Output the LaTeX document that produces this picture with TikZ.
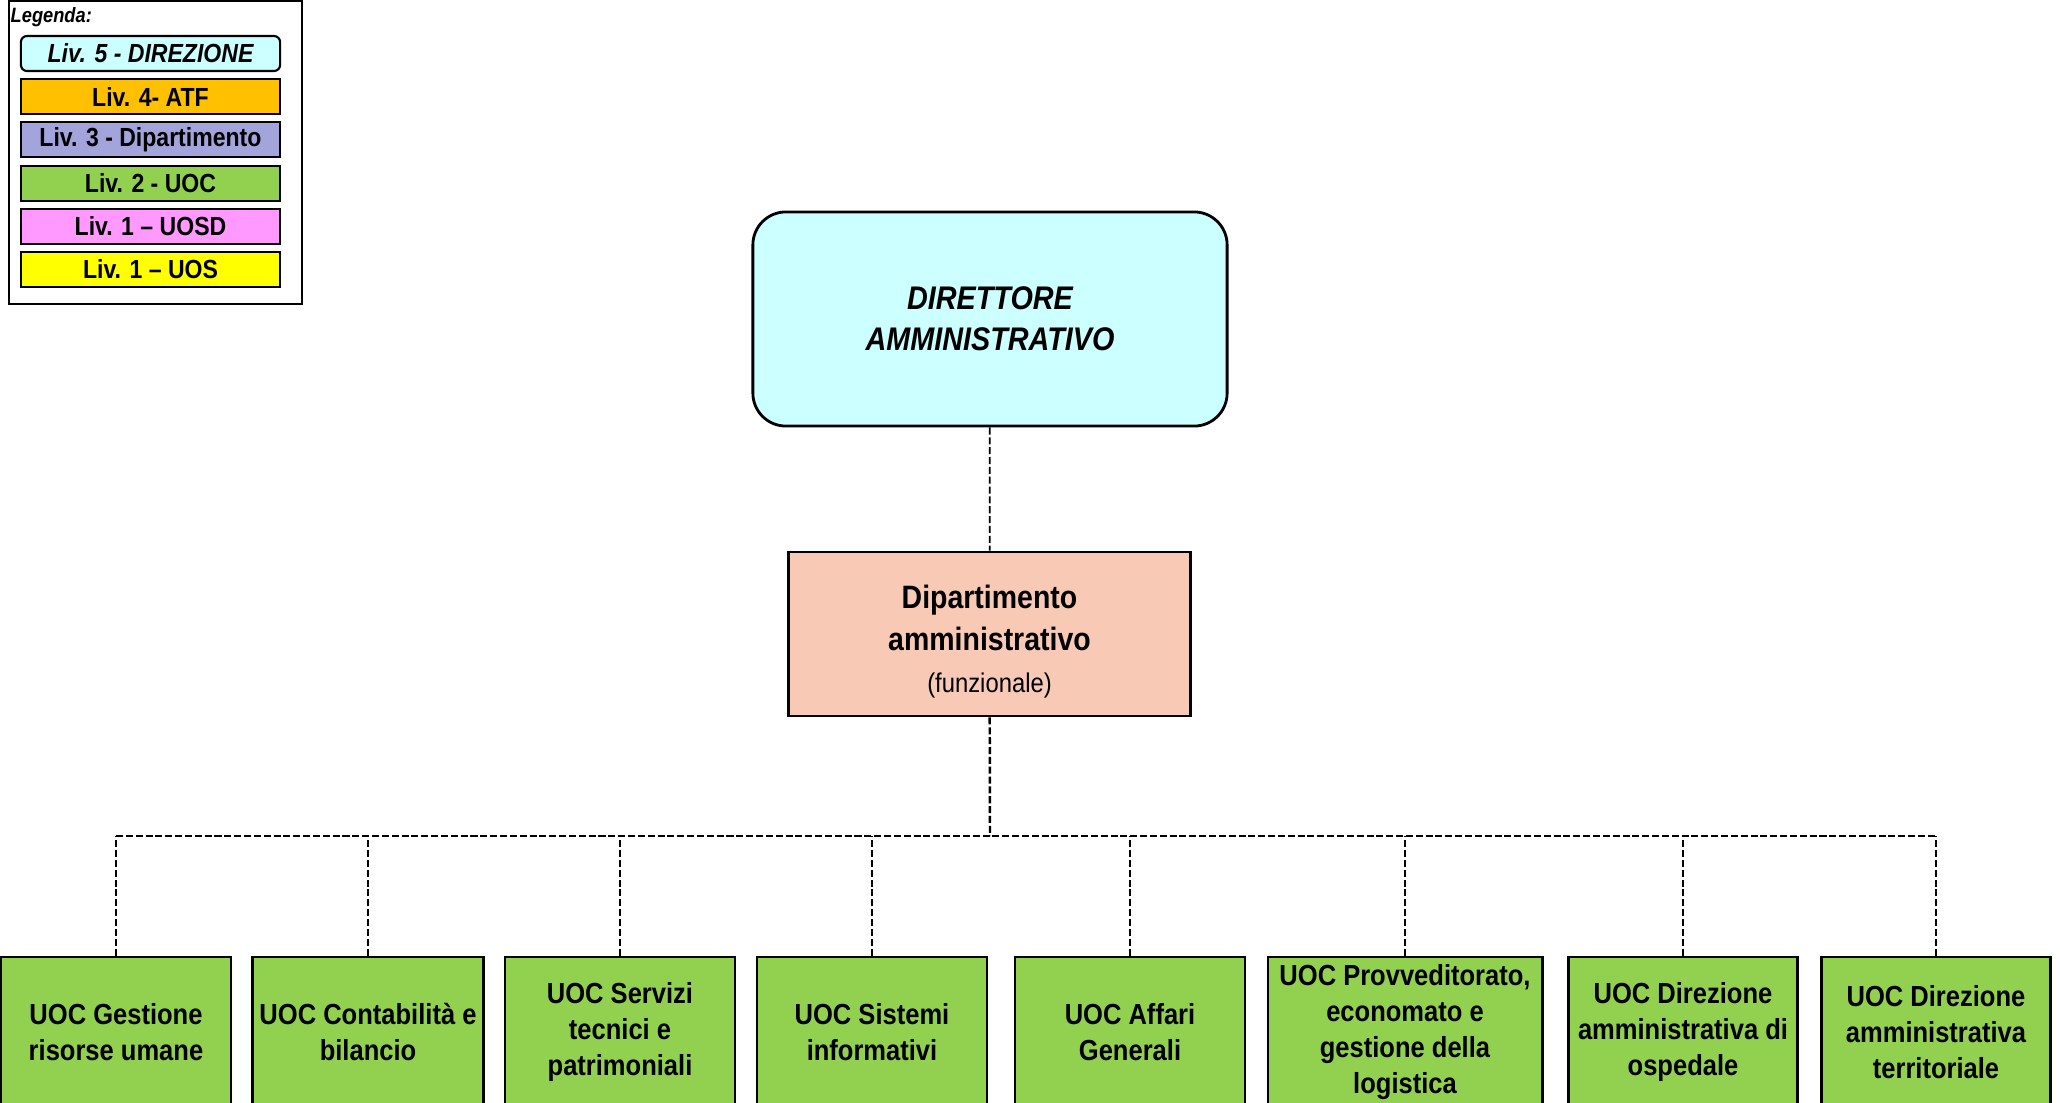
\documentclass[tikz,border=0pt]{standalone}
\usepackage{fontspec}
\setmainfont{Liberation Sans}[FakeStretch=0.88]
\definecolor{cdir}{HTML}{CCFFFF}
\definecolor{catf}{HTML}{FFC000}
\definecolor{cdip}{HTML}{A4A4DC}
\definecolor{cuoc}{HTML}{92D050}
\definecolor{cuosd}{HTML}{FF99FF}
\definecolor{cuos}{HTML}{FFFF00}
\definecolor{cdipa}{HTML}{F8CAB6}
\tikzset{
  box/.style={draw=black,line width=0.8pt,align=center,inner sep=2pt},
  dirbox/.style={box,fill=cdir,rounded corners=0.33cm,minimum width=4.74cm,minimum height=2.14cm,font=\bfseries\itshape\fontsize{9.3}{11.6}\selectfont},
  dipbox/.style={box,fill=cdipa,minimum width=4.01cm,minimum height=1.64cm,font=\bfseries\fontsize{9.2}{12}\selectfont},
  uoc/.style={box,fill=cuoc,minimum height=1.5cm,font=\bfseries\fontsize{8.25}{10.2}\selectfont},
  liv/.style={draw=black,line width=0.6pt,minimum width=2.59cm,minimum height=0.35cm,inner sep=0pt,font=\bfseries\fontsize{7.45}{8}\selectfont},
  link/.style={draw=black,line width=0.5pt,dash pattern=on 2pt off 0.8pt},
}

\begin{document}
\begin{tikzpicture}[x=0.01cm,y=-0.01cm]
\clip (0,0) rectangle (2060,1103);

% ================= legenda =================
\node[draw=black,line width=0.5pt,minimum width=2.93cm,minimum height=3.03cm,inner sep=0pt] (legenda) at (155.5,152.5) {};
\node[font=\bfseries\itshape\fontsize{5.9}{6}\selectfont,anchor=base west,inner sep=0pt] (legtit) at (10,22) {Legenda:};
\node[liv,fill=cdir,rounded corners=0.06cm,font=\bfseries\itshape\fontsize{7.45}{8}\selectfont] (liv1) at (150.5,53.5) {Liv. 5 - DIREZIONE};
\foreach \i/\col/\txt in {2/catf/Liv. 4- ATF,3/cdip/Liv. 3 - Dipartimento,4/cuoc/Liv. 2 - UOC,5/cuosd/Liv. 1 -- UOSD,6/cuos/Liv. 1 -- UOS}{
  \node[liv,fill=\col] (liv\i) at (150.5,{53.5+(\i-1)*43.2}) {\txt};
}

% ================= direzione e dipartimento =================
\node[dirbox] (dir) at (990,319) {DIRETTORE\\AMMINISTRATIVO};
\node[dipbox] (dip) at (989.5,634) {\rule{0pt}{11pt}Dipartimento\\amministrativo\\{\mdseries\fontsize{7.7}{10}\selectfont(funzionale)}};
\coordinate (bus) at (990,836);
\draw[link] (dir) -- (dip);
\draw[link,line width=0.7pt] (dip) -- (bus);

% ================= UOC =================
\foreach \n/\cx/\w/\txt in {
  1/116/2.3/{UOC Gestione\\risorse umane},
  2/368/2.3/{UOC Contabilità e\\bilancio},
  3/620/2.3/{UOC Servizi\\tecnici e\\patrimoniali},
  4/872/2.3/{UOC Sistemi\\informativi},
  5/1130/2.3/{UOC Affari\\Generali},
  6/1405/2.74/{UOC Provveditorato,\\economato e\\gestione della\\logistica},
  7/1683/2.29/{UOC Direzione\\amministrativa di\\ospedale},
  8/1936/2.29/{UOC Direzione\\amministrativa\\territoriale}}{
  \node[uoc,minimum width=\w cm] (uoc\n) at (\cx,1032) {\txt};
  \draw[link] (uoc\n.north) -- (uoc\n.north |- bus);
}
\draw[link] (uoc1.north |- bus) -- (uoc8.north |- bus);

\end{tikzpicture}
\end{document}
